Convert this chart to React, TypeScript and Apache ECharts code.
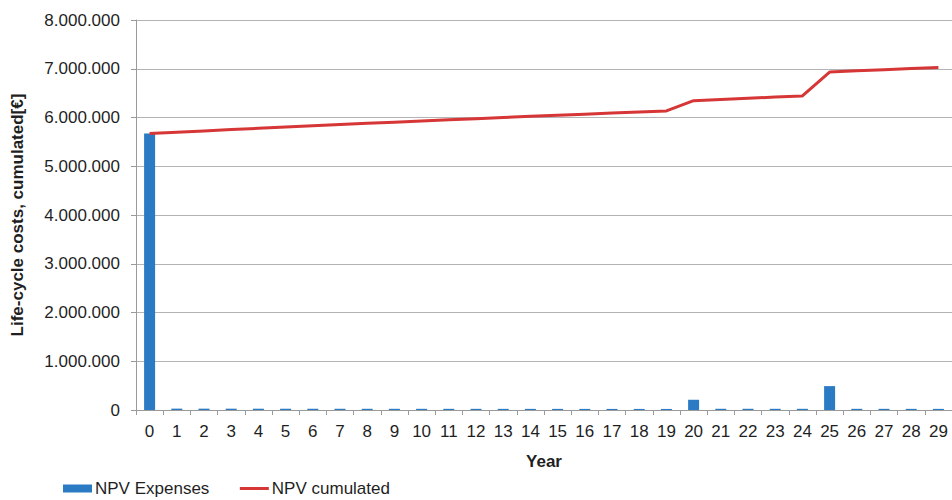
import React, { useEffect, useRef } from "react";
import * as echarts from "echarts";

const years = [
  "0", "1", "2", "3", "4", "5", "6", "7", "8", "9",
  "10", "11", "12", "13", "14", "15", "16", "17", "18", "19",
  "20", "21", "22", "23", "24", "25", "26", "27", "28", "29",
];

const npvExpenses = [
  5670000, 28000, 27500, 27000, 26500, 26000, 25500, 25000, 24800, 24500,
  24200, 24000, 23700, 23400, 23100, 22800, 22500, 22200, 22000, 21700,
  210000, 25000, 24800, 24500, 24200, 490000, 24000, 23700, 23400, 23100,
];

const npvCumulated = [
  5670000, 5698000, 5725500, 5752500, 5779000, 5805000, 5830500, 5855500, 5880300, 5904800,
  5929000, 5953000, 5976700, 6000100, 6023200, 6046000, 6068500, 6090700, 6112700, 6134400,
  6344400, 6369400, 6394200, 6418700, 6442900, 6932900, 6956900, 6980600, 7004000, 7027100,
];

const yTicks = [0, 1000000, 2000000, 3000000, 4000000, 5000000, 6000000, 7000000, 8000000];

const FONT = "'Liberation Sans', Arial, sans-serif";
const TEXT = "#1f1f1f";

function fmt(v: number): string {
  return String(Math.round(v)).replace(/\B(?=(\d{3})+(?!\d))/g, ".");
}

export default function App() {
  const ref = useRef<HTMLDivElement>(null);

  useEffect(() => {
    if (!ref.current) return;
    const chart = echarts.init(ref.current, null, { renderer: "svg" });
    chart.setOption({
      animation: false,
      textStyle: { fontFamily: FONT },
      grid: { left: 136, right: 0, top: 20, bottom: 90, containLabel: false },
      legend: {
        left: 63,
        top: 480,
        padding: 0,
        itemWidth: 29,
        itemHeight: 8,
        itemGap: 29,
        textStyle: {
          fontFamily: FONT,
          fontSize: 17,
          lineHeight: 17,
          color: TEXT,
          padding: [0, 0, 0, -2],
        },
        data: [
          { name: "NPV Expenses", icon: "rect" },
          { name: "NPV cumulated", itemStyle: { opacity: 0 }, lineStyle: { opacity: 1, width: 3 } },
        ],
      },
      xAxis: {
        type: "category",
        data: years,
        name: "Year",
        nameLocation: "middle",
        nameGap: 43,
        nameTextStyle: { fontFamily: FONT, fontSize: 17, fontWeight: "bold", color: TEXT },
        axisLine: { show: true, lineStyle: { color: "#9a9a9a", width: 1 } },
        axisTick: { show: true, length: 5, alignWithLabel: false, lineStyle: { color: "#9a9a9a" } },
        axisLabel: { fontFamily: FONT, fontSize: 17, color: TEXT, margin: 13, interval: 0 },
        splitLine: { show: false },
      },
      yAxis: {
        type: "value",
        min: yTicks[0],
        max: yTicks[yTicks.length - 1],
        interval: 1000000,
        name: "Life-cycle costs, cumulated[€]",
        nameLocation: "middle",
        nameGap: 110,
        nameTextStyle: { fontFamily: FONT, fontSize: 17, fontWeight: "bold", color: TEXT },
        axisLine: { show: true, lineStyle: { color: "#9a9a9a", width: 1 } },
        axisTick: { show: true, length: 5, lineStyle: { color: "#9a9a9a" } },
        axisLabel: {
          fontFamily: FONT,
          fontSize: 17,
          color: TEXT,
          margin: 16,
          formatter: (v: number) => fmt(v),
        },
        splitLine: { show: true, lineStyle: { color: "#b4b4b4", width: 1 } },
      },
      series: [
        {
          name: "NPV Expenses",
          type: "bar",
          data: npvExpenses,
          barWidth: 11,
          itemStyle: { color: "#2a7bc4" },
        },
        {
          name: "NPV cumulated",
          type: "line",
          data: npvCumulated,
          symbol: "none",
          lineStyle: { color: "#d63636", width: 3 },
          itemStyle: { color: "#d63636" },
        },
      ],
    });
    return () => chart.dispose();
  }, []);

  return <div ref={ref} style={{ width: 952, height: 500, position: "absolute", left: 0, top: 0 }} />;
}
